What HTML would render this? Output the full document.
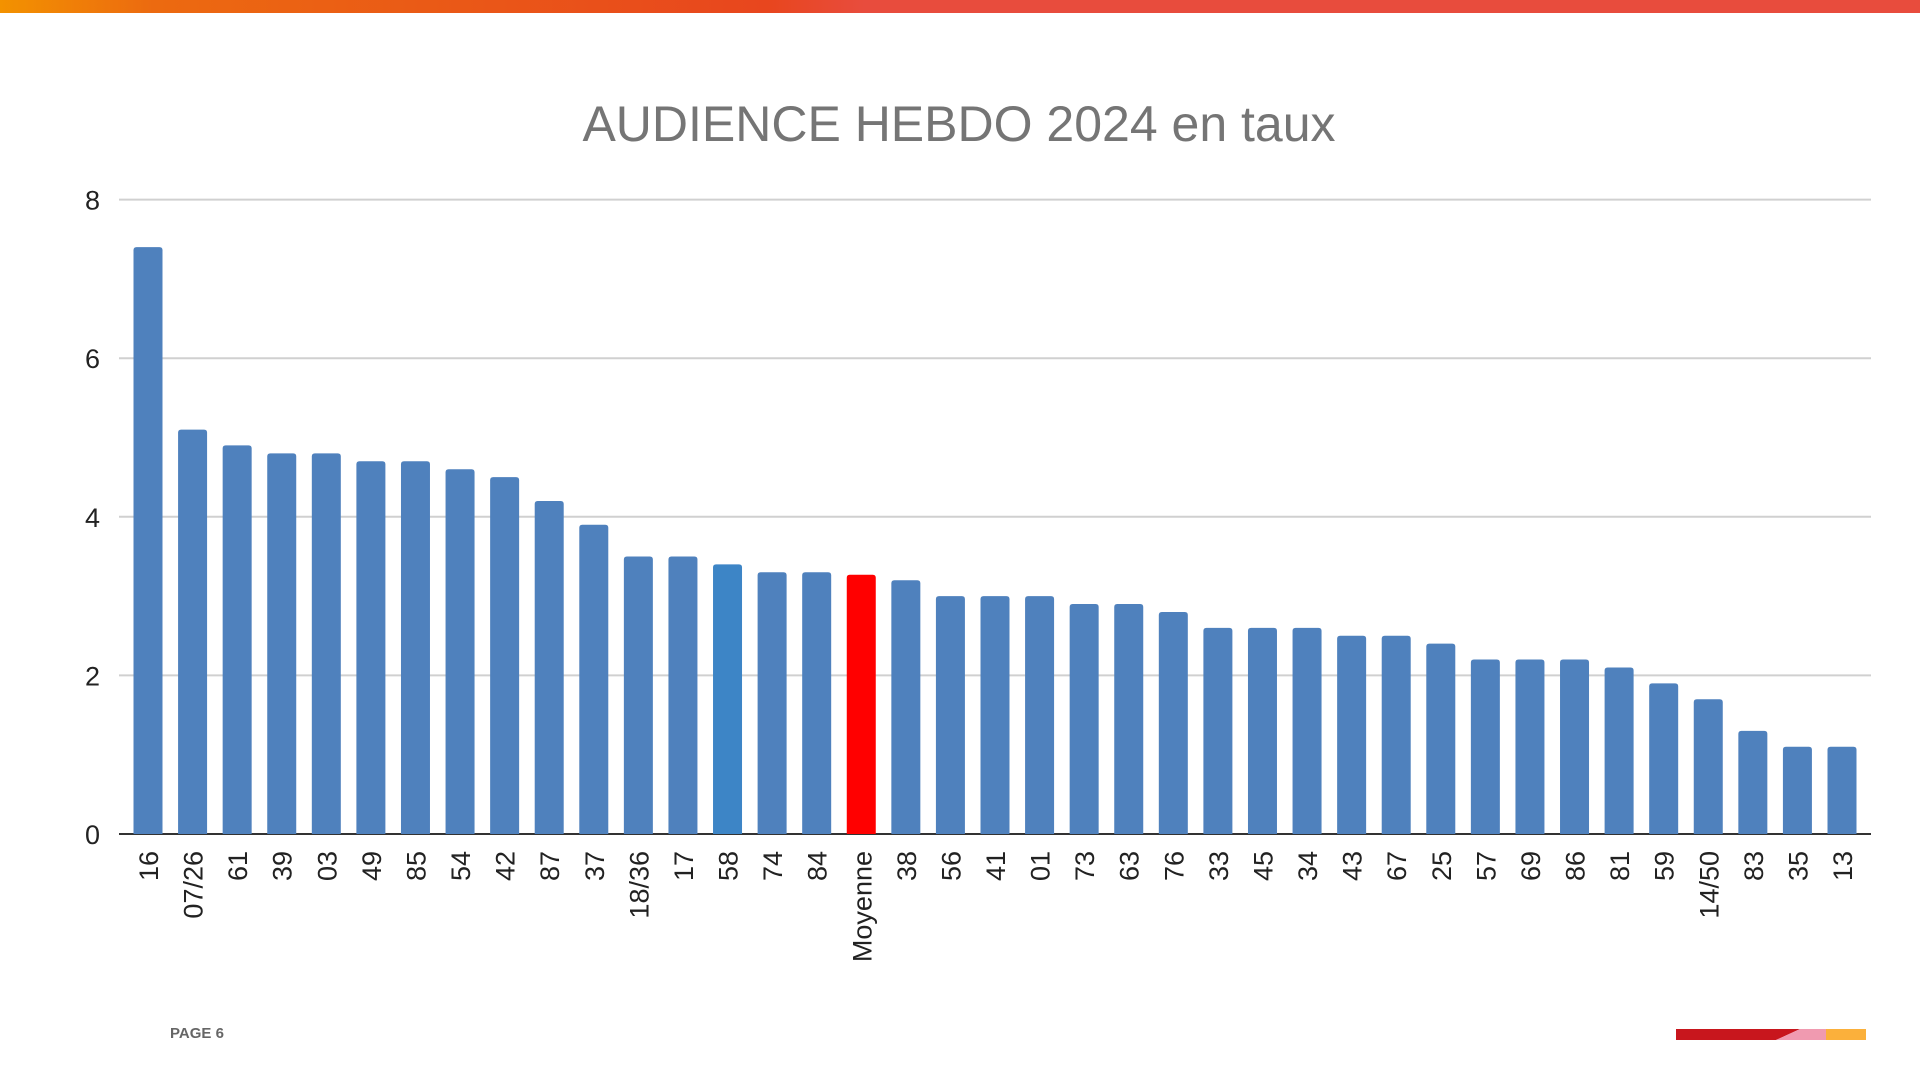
<!DOCTYPE html>
<html><head><meta charset="utf-8"><style>
body{margin:0;width:1920px;height:1080px;background:#fff;overflow:hidden;font-family:"Liberation Sans",sans-serif}
</style></head><body>
<svg id="chart" width="1920" height="1080" xmlns="http://www.w3.org/2000/svg">
<defs><linearGradient id="tg" x1="0" x2="1"><stop offset="0" stop-color="#f39200"/><stop offset="0.08" stop-color="#ec6a10"/><stop offset="0.4" stop-color="#e8461e"/><stop offset="0.45" stop-color="#e84c3d"/><stop offset="1" stop-color="#e84c3d"/></linearGradient></defs>
<rect x="0" y="0" width="1920" height="13" fill="url(#tg)"/>
<text x="959" y="141" text-anchor="middle" font-size="50" fill="#757575">AUDIENCE HEBDO 2024 en taux</text>
<g id="grid"></g><g id="bars"></g><g id="xl"></g>
<text x="170" y="1038" font-size="15" font-weight="bold" fill="#666">PAGE 6</text>
<g>
<rect x="1676" y="1029" width="100" height="11" fill="#c8161d"/>
<polygon points="1776,1029 1800,1029 1776,1040" fill="#c8161d"/>
<polygon points="1800,1029 1826,1029 1826,1040 1776,1040" fill="#f09ab0"/>
<rect x="1826" y="1029" width="40" height="11" fill="#fbb03b"/>
</g>
</svg>
<script>
const categories=["16","07/26","61","39","03","49","85","54","42","87","37","18/36","17","58","74","84","Moyenne","38","56","41","01","73","63","76","33","45","34","43","67","25","57","69","86","81","59","14/50","83","35","13"];
const values=[7.4,5.1,4.9,4.8,4.8,4.7,4.7,4.6,4.5,4.2,3.9,3.5,3.5,3.4,3.3,3.3,3.27,3.2,3.0,3.0,3.0,2.9,2.9,2.8,2.6,2.6,2.6,2.5,2.5,2.4,2.2,2.2,2.2,2.1,1.9,1.7,1.3,1.1,1.1];
const yTicks=[0,2,4,6,8];
const NS="http://www.w3.org/2000/svg";
const y0=834,y8=199.6,left=119,right=1871;
const y=v=>y0-(y0-y8)*v/8;
const x=i=>148+i*(1842-148)/(categories.length-1);
const g=document.getElementById('grid'),b=document.getElementById('bars'),xl=document.getElementById('xl');
function mk(t,a,p){const e=document.createElementNS(NS,t);for(const k in a)e.setAttribute(k,a[k]);p.appendChild(e);return e;}
yTicks.forEach(t=>{
 if(t>0){const l=mk('line',{x1:left,x2:right,y1:y(t),y2:y(t),stroke:'#d0d0d0','stroke-width':2},g);
 
 }
 const tx=mk('text',{x:100,y:y(t)+10,'text-anchor':'end','font-size':27,fill:'#222'},g);
 
 
 tx.textContent=t;
});
categories.forEach((c,i)=>{
 const w=29,h=y0-y(values[i]);
 const col=c==='Moyenne'?'#ff0000':(c==='58'?'#3d85c6':'#4f81bd');
 const r=mk('path',{d:`M${x(i)-w/2},${y0}V${y(values[i])+3}q0,-3 3,-3h${w-6}q3,0 3,3V${y0}Z`,fill:col},b);
 
 
 const t=mk('text',{transform:`translate(${x(i)+10},851) rotate(-90)`,'text-anchor':'end','font-size':27,fill:'#222'},xl);
 
 
 t.textContent=c;
});
const ax=mk('line',{x1:left,x2:right,y1:y0,y2:y0,stroke:'#333','stroke-width':2},g);


</script>
</body></html>
